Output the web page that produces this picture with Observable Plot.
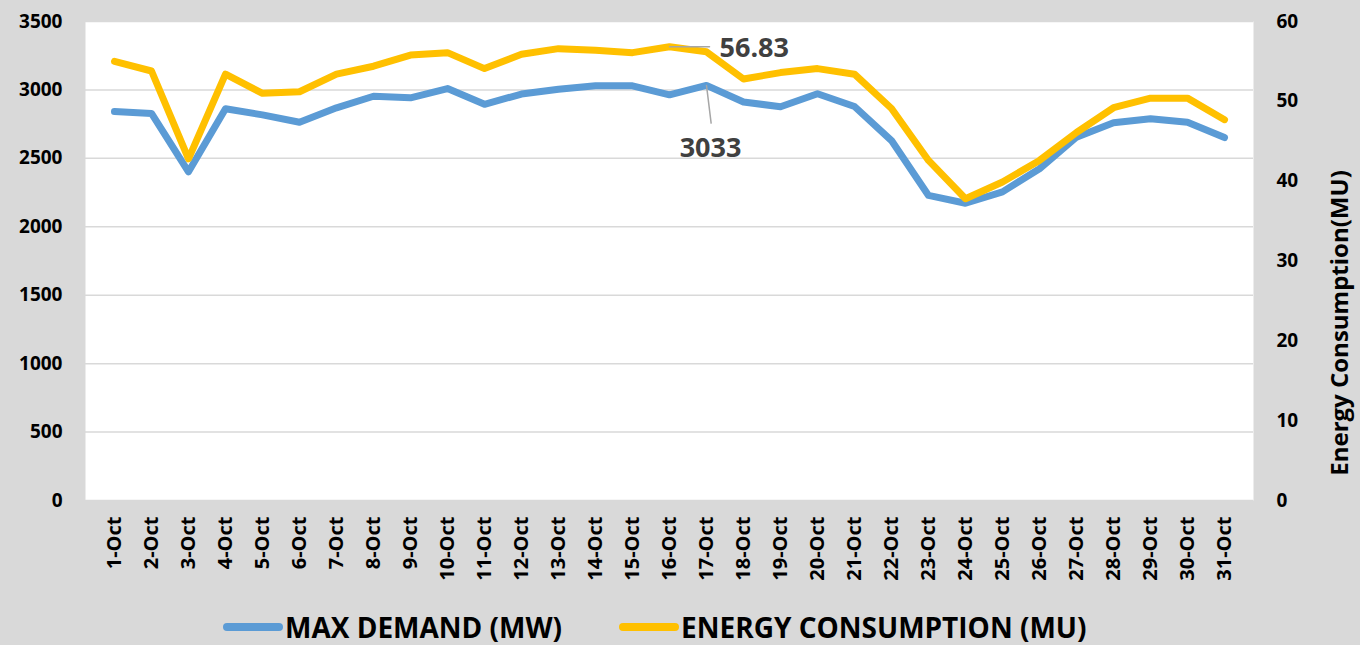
<!DOCTYPE html>
<html>
<head>
<meta charset="utf-8">
<script src="https://cdn.jsdelivr.net/npm/d3@7"></script>
<script src="https://cdn.jsdelivr.net/npm/@observablehq/plot@0.6"></script>
<style>
  html, body { margin: 0; padding: 0; background: #d9d9d9; }
  body { width: 1360px; height: 645px; overflow: hidden; font-family: "Open Sans", Lato, sans-serif; }
  #legend { height: 45px; display: flex; align-items: center; padding-left: 223px; padding-top: 9px; box-sizing: border-box; }
  .item { display: flex; align-items: center; margin-right: 57px; }
  .sw { width: 60px; height: 8px; border-radius: 4px; margin-right: 2px; }
  .lbl { font-size: 28px; font-weight: bold; color: #000; line-height: 1; }
</style>
</head>
<body>
<div id="chart"></div>
<div id="legend"></div>
<script>
const days = ["1-Oct","2-Oct","3-Oct","4-Oct","5-Oct","6-Oct","7-Oct","8-Oct","9-Oct","10-Oct",
  "11-Oct","12-Oct","13-Oct","14-Oct","15-Oct","16-Oct","17-Oct","18-Oct","19-Oct","20-Oct",
  "21-Oct","22-Oct","23-Oct","24-Oct","25-Oct","26-Oct","27-Oct","28-Oct","29-Oct","30-Oct","31-Oct"];
const maxDemand = [2842, 2828, 2402, 2862, 2818, 2764, 2869, 2954, 2942, 3010,
  2895, 2970, 3005, 3030, 3030, 2964, 3033, 2912, 2877, 2972,
  2879, 2630, 2229, 2172, 2255, 2424, 2655, 2760, 2789, 2764, 2652];
const energy = [55.0, 53.8, 42.8, 53.4, 51.0, 51.2, 53.4, 54.4, 55.8, 56.1,
  54.1, 55.9, 56.6, 56.4, 56.1, 56.83, 56.2, 52.8, 53.6, 54.1,
  53.4, 49.1, 42.6, 37.8, 39.9, 42.6, 46.1, 49.2, 50.4, 50.4, 47.7];
const leftTicks = [0, 500, 1000, 1500, 2000, 2500, 3000, 3500];
const rightTicks = [0, 10, 20, 30, 40, 50, 60];
const seriesNames = ["MAX DEMAND (MW)", "ENERGY CONSUMPTION (MU)"];
const seriesColors = ["#5B9BD5", "#FFC000"];
const rightTitle = "Energy Consumption(MU)";
const labelledEnergyDay = "16-Oct";
const labelledDemandDay = "17-Oct";

const k = 3500 / 60; // right axis (MU) mapped onto left axis (MW)
const rows = days.map((d, i) => ({day: d, mw: maxDemand[i], mu: energy[i]}));
const energyLabel = rows.filter(r => r.day === labelledEnergyDay);
const demandLabel = rows.filter(r => r.day === labelledDemandDay);
const leader = {draw(context, l) { context.moveTo(0, 0); context.lineTo(0, -l); }};

const bold = {fontSize: 19, fontWeight: "bold", fill: "#000"};

const chart = Plot.plot({
  width: 1360,
  height: 600,
  marginLeft: 85,
  marginRight: 107,
  marginTop: 21,
  marginBottom: 100,
  style: {fontFamily: "'Open Sans', Lato, sans-serif", background: "#d9d9d9", color: "#000", overflow: "visible"},
  x: {type: "point", domain: days, padding: 0.5},
  y: {domain: [0, 3500]},
  marks: [
    Plot.frame({fill: "white", stroke: null}),
    Plot.gridY(leftTicks, {stroke: "#d9d9d9", strokeOpacity: 1, strokeWidth: 1.5}),
    Plot.axisY(leftTicks, {anchor: "left", tickSize: 0, tickPadding: 23, label: null,
      tickFormat: d => String(d), ...bold}),
    Plot.axisY(rightTicks.map(t => t * k), {anchor: "right", tickSize: 0, tickPadding: 23, label: null,
      tickFormat: d => String(Math.round(d / k)), ...bold}),
    Plot.axisX({tickRotate: -90, tickSize: 0, tickPadding: 16, label: null, ...bold, fontSize: 20}),
    Plot.text([rightTitle], {text: d => d, frameAnchor: "right", dx: 87, dy: 62, rotate: -90,
      textAnchor: "middle", fontSize: 24, fontWeight: "bold", fill: "#000"}),
    Plot.line(rows, {x: "day", y: "mw", stroke: seriesColors[0], strokeWidth: 7,
      strokeLinejoin: "round", strokeLinecap: "round"}),
    Plot.line(rows, {x: "day", y: d => d.mu * k, stroke: seriesColors[1], strokeWidth: 7,
      strokeLinejoin: "round", strokeLinecap: "round"}),
    Plot.vector(energyLabel, {x: "day", y: d => d.mu * k, length: 40, rotate: 90, anchor: "start",
      shape: leader, stroke: "#a6a6a6", strokeWidth: 1.5}),
    Plot.text(energyLabel, {x: "day", y: d => d.mu * k, text: d => d.mu.toFixed(2), dx: 50, dy: 2,
      textAnchor: "start", fontSize: 27, fontWeight: "bold", fill: "#404040"}),
    Plot.vector(demandLabel, {x: "day", y: "mw", length: 38, rotate: 173, anchor: "start",
      shape: leader, stroke: "#a6a6a6", strokeWidth: 1.5}),
    Plot.text(demandLabel, {x: "day", y: "mw", text: d => String(d.mw), dx: 4, dy: 63,
      textAnchor: "middle", fontSize: 27, fontWeight: "bold", fill: "#404040"})
  ]
});
document.getElementById("chart").appendChild(chart);

const legend = document.getElementById("legend");
seriesNames.forEach((name, i) => {
  const item = document.createElement("div");
  item.className = "item";
  const sw = document.createElement("div");
  sw.className = "sw";
  sw.style.background = seriesColors[i];
  const lbl = document.createElement("span");
  lbl.className = "lbl";
  lbl.textContent = name;
  item.appendChild(sw);
  item.appendChild(lbl);
  legend.appendChild(item);
});
</script>
</body>
</html>
